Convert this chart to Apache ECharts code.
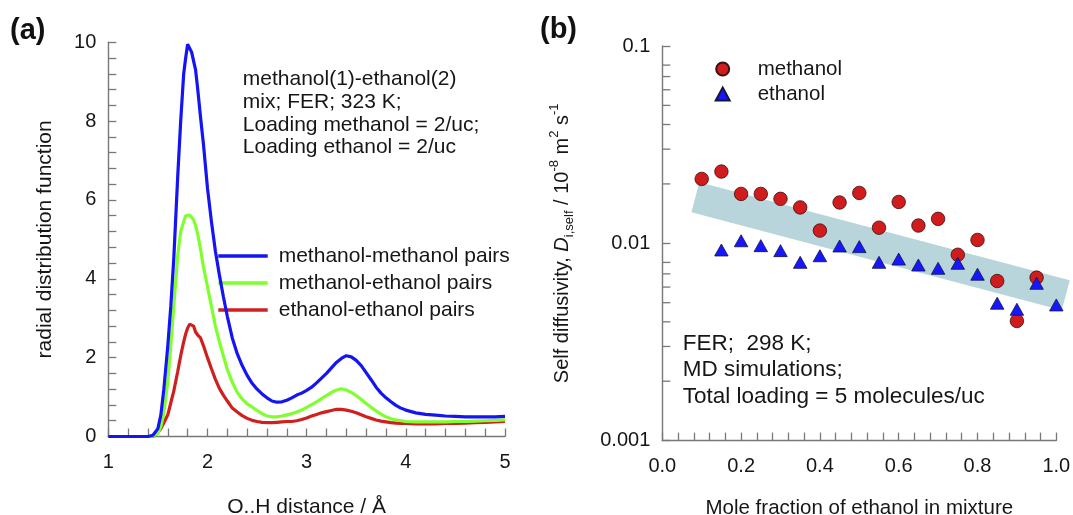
<!DOCTYPE html>
<html>
<head>
<meta charset="utf-8">
<script src="https://cdn.jsdelivr.net/npm/echarts@6/dist/echarts.min.js"></script>
<style>
  html, body { margin: 0; padding: 0; background: #fff; }
  #chart { width: 1073px; height: 515px; }
</style>
</head>
<body>
<div id="chart"></div>
<script>
// ---------- (a) radial distribution functions ----------
const rdfDistance = [1.00, 1.10, 1.20, 1.30, 1.40, 1.45, 1.50, 1.53, 1.56, 1.60, 1.63, 1.66, 1.70, 1.73, 1.76, 1.78,
  1.80, 1.82, 1.84, 1.86, 1.88, 1.90, 1.93, 1.96, 2.00, 2.04, 2.08, 2.12, 2.16, 2.20, 2.25, 2.30, 2.35, 2.40,
  2.45, 2.50, 2.55, 2.60, 2.65, 2.70, 2.75, 2.80, 2.85, 2.90, 2.95, 3.00, 3.05, 3.10, 3.15, 3.20, 3.25, 3.30,
  3.35, 3.40, 3.45, 3.50, 3.55, 3.60, 3.65, 3.70, 3.75, 3.80, 3.85, 3.90, 3.95, 4.00, 4.10, 4.20, 4.30, 4.40,
  4.50, 4.60, 4.70, 4.80, 4.90, 5.00];

const rdfMethMeth = [0, 0, 0, 0, 0, 0.03, 0.2, 0.55, 1.2, 2.3, 3.3, 4.5, 6.6, 8.0, 9.2, 9.6,
  9.95, 9.85, 9.75, 9.7, 9.3, 8.85, 8.1, 7.4, 6.3, 5.45, 4.7, 4.1, 3.55, 3.05, 2.5, 2.1, 1.8, 1.55,
  1.35, 1.2, 1.08, 0.98, 0.9, 0.87, 0.88, 0.92, 0.98, 1.05, 1.1, 1.17, 1.25, 1.36, 1.48, 1.6, 1.74, 1.88,
  1.98, 2.05, 2.02, 1.93, 1.8, 1.62, 1.44, 1.25, 1.1, 0.98, 0.88, 0.79, 0.72, 0.67, 0.6, 0.56, 0.54, 0.52,
  0.51, 0.5, 0.5, 0.5, 0.5, 0.51];

const rdfMethEth = [0, 0, 0, 0, 0, 0.01, 0.08, 0.25, 0.6, 1.4, 2.3, 3.3, 4.6, 5.2, 5.45, 5.6,
  5.65, 5.62, 5.6, 5.5, 5.35, 5.15, 4.75, 4.3, 3.8, 3.3, 2.8, 2.4, 2.05, 1.7, 1.38, 1.12, 0.95, 0.83,
  0.75, 0.66, 0.58, 0.52, 0.5, 0.5, 0.52, 0.55, 0.58, 0.62, 0.67, 0.74, 0.81, 0.88, 0.96, 1.04, 1.12, 1.18,
  1.21, 1.18, 1.12, 1.04, 0.94, 0.84, 0.74, 0.65, 0.57, 0.5, 0.45, 0.42, 0.4, 0.38, 0.37, 0.37, 0.37, 0.37,
  0.38, 0.38, 0.39, 0.4, 0.41, 0.42];

const rdfEthEth = [0, 0, 0, 0, 0, 0, 0.1, 0.2, 0.35, 0.55, 0.85, 1.15, 1.65, 2.05, 2.4, 2.6,
  2.75, 2.85, 2.88, 2.8, 2.65, 2.58, 2.5, 2.3, 2.0, 1.72, 1.45, 1.22, 1.05, 0.9, 0.72, 0.62, 0.53, 0.46,
  0.41, 0.38, 0.36, 0.35, 0.35, 0.36, 0.37, 0.38, 0.38, 0.4, 0.43, 0.47, 0.52, 0.56, 0.6, 0.63, 0.66, 0.69,
  0.69, 0.67, 0.64, 0.6, 0.55, 0.5, 0.46, 0.42, 0.39, 0.37, 0.35, 0.34, 0.33, 0.33, 0.32, 0.32, 0.32, 0.33,
  0.33, 0.34, 0.35, 0.36, 0.37, 0.38];

const rdfNames = ['methanol-methanol pairs', 'methanol-ethanol pairs', 'ethanol-ethanol pairs'];
const rdfColors = ['#1414f5', '#80ff2e', '#d01f1f'];

// ---------- (b) self diffusivities ----------
const methanolFraction = [0.10, 0.15, 0.20, 0.25, 0.30, 0.35, 0.40, 0.45, 0.50, 0.55, 0.60, 0.65, 0.70, 0.75, 0.80, 0.85, 0.90, 0.95];
const methanolDself = [0.0212, 0.0231, 0.0178, 0.0178, 0.0168, 0.0152, 0.0116, 0.0161, 0.0180, 0.0120, 0.0162, 0.0123, 0.0133, 0.00875, 0.0104, 0.00644, 0.00404, 0.0067];

const ethanolFraction = [0.15, 0.20, 0.25, 0.30, 0.35, 0.40, 0.45, 0.50, 0.55, 0.60, 0.65, 0.70, 0.75, 0.80, 0.85, 0.90, 0.95, 1.00];
const ethanolDself = [0.00925, 0.0103, 0.00973, 0.00918, 0.00801, 0.00865, 0.00969, 0.00962, 0.00801, 0.00832, 0.00776, 0.00747, 0.00792, 0.00697, 0.00497, 0.00463, 0.00627, 0.00487];

// trend band drawn as a thick straight stroke between two points
const bandFraction = [0.084, 1.024];
const bandDself = [0.0171, 0.00545];

// minor ticks of the logarithmic axis
const logMinorTicks = [0.002, 0.003, 0.004, 0.005, 0.006, 0.007, 0.008, 0.02, 0.03, 0.04, 0.05, 0.06, 0.07, 0.08];

const FONT = 'Liberation Sans, Arial, Helvetica, sans-serif';
const AXIS_GRAY = '#787878';
const TXT = '#161616';

const zip = (xs, ys) => xs.map((x, i) => [x, ys[i]]);

const axisCommon = {
  axisLine: { show: true, lineStyle: { color: AXIS_GRAY, width: 1.4 } },
  axisTick: { show: true, inside: true, length: 8, lineStyle: { color: AXIS_GRAY, width: 1.3 } },
  splitLine: { show: false },
  axisLabel: { color: TXT, fontSize: 20, fontFamily: FONT }
};

const chart = echarts.init(document.getElementById('chart'), null, { renderer: 'canvas' });

const option = {
  backgroundColor: '#ffffff',
  animation: false,
  textStyle: { fontFamily: FONT },
  grid: [
    { left: 108.3, top: 42.3, width: 396.7, height: 394.2, containLabel: false, outerBoundsMode: 'none' },
    { left: 662.3, top: 46, width: 394, height: 394.6, containLabel: false, outerBoundsMode: 'none' }
  ],
  xAxis: [
    Object.assign({}, axisCommon, {
      gridIndex: 0, type: 'value', min: 1, max: 5, interval: 1,
      minorTick: { show: true, splitNumber: 5, length: 8, lineStyle: { color: AXIS_GRAY, width: 1.3 } },
      axisLabel: Object.assign({}, axisCommon.axisLabel, { margin: 16 }),
      name: 'O..H distance / Å', nameLocation: 'middle', nameGap: 60,
      nameTextStyle: { color: TXT, fontSize: 21, fontFamily: FONT }
    }),
    Object.assign({}, axisCommon, {
      gridIndex: 1, type: 'value', min: 0, max: 1, interval: 0.2,
      minorTick: { show: true, splitNumber: 5, length: 8, lineStyle: { color: AXIS_GRAY, width: 1.3 } },
      axisLabel: Object.assign({}, axisCommon.axisLabel, { margin: 16, formatter: v => v.toFixed(1) }),
      name: 'Mole fraction of ethanol in mixture', nameLocation: 'middle', nameGap: 57,
      nameTextStyle: { color: TXT, fontSize: 20.5, fontFamily: FONT }
    })
  ],
  yAxis: [
    Object.assign({}, axisCommon, {
      gridIndex: 0, type: 'value', min: 0, max: 10, interval: 2,
      minorTick: { show: true, splitNumber: 5, length: 8, lineStyle: { color: AXIS_GRAY, width: 1.3 } },
      axisLabel: Object.assign({}, axisCommon.axisLabel, { margin: 12 }),
      name: 'radial distribution function', nameLocation: 'middle', nameGap: 53, nameRotate: 90,
      nameTextStyle: { color: TXT, fontSize: 21, fontFamily: FONT }
    }),
    Object.assign({}, axisCommon, {
      gridIndex: 1, type: 'log', logBase: 10, min: 0.001, max: 0.1,
      axisLabel: Object.assign({}, axisCommon.axisLabel, {
        margin: 12,
        formatter: v => String(Number(Number(v).toPrecision(1)))
      }),
      name: '{n|Self diffusivity, }{it|D}{sub|i,self}{n| / 10}{sup|-8}{n| m}{sup|2}{n| s}{sup|-1}',
      nameLocation: 'middle', nameGap: 86, nameRotate: 90,
      nameTextStyle: {
        color: TXT, fontFamily: FONT,
        rich: {
          n: { fontSize: 20, lineHeight: 28, color: TXT, fontFamily: FONT },
          it: { fontSize: 20, lineHeight: 28, fontStyle: 'italic', color: TXT, fontFamily: FONT },
          sub: { fontSize: 13, lineHeight: 13, verticalAlign: 'bottom', color: TXT, fontFamily: FONT },
          sup: { fontSize: 13, lineHeight: 13, verticalAlign: 'top', color: TXT, fontFamily: FONT }
        }
      }
    })
  ],
  legend: [
    {
      data: rdfNames, orient: 'vertical', left: 218.3, top: 244, padding: 0,
      icon: 'rect', itemWidth: 49.4, itemHeight: 3.5, itemGap: 3,
      textStyle: { fontSize: 21, lineHeight: 24, color: TXT, fontFamily: FONT, padding: [0, 0, 0, 6] },
      selectedMode: false
    },
    {
      data: [{ name: 'methanol', icon: 'circle' }, { name: 'ethanol', icon: 'triangle' }],
      orient: 'vertical', left: 714.7, top: 57, padding: 0,
      itemWidth: 14, itemHeight: 13, itemGap: 1,
      textStyle: { fontSize: 20.5, lineHeight: 24, color: TXT, fontFamily: FONT, padding: [0, 0, 0, 23] },
      selectedMode: false
    }
  ],
  graphic: [
    { type: 'text', left: 10, top: 16, style: { text: '(a)', font: 'bold 29px ' + FONT, fill: '#111' } },
    { type: 'text', left: 540, top: 15, style: { text: '(b)', font: 'bold 29px ' + FONT, fill: '#111' } },
    {
      type: 'text', left: 242.8, top: 67.5,
      style: {
        text: 'methanol(1)-ethanol(2)\nmix; FER; 323 K;\nLoading methanol = 2/uc;\nLoading ethanol = 2/uc',
        font: '21px ' + FONT, lineHeight: 22.9, fill: TXT
      }
    },
    {
      type: 'text', left: 682.7, top: 330,
      style: {
        text: 'FER;  298 K;\nMD simulations;\nTotal loading = 5 molecules/uc',
        font: '22.5px ' + FONT, lineHeight: 26.7, fill: TXT
      }
    }
  ],
  series: [
    ...[rdfMethMeth, rdfMethEth, rdfEthEth].map((ys, i) => ({
      type: 'line', name: rdfNames[i], xAxisIndex: 0, yAxisIndex: 0,
      data: zip(rdfDistance, ys), showSymbol: false, symbol: 'none',
      lineStyle: { color: rdfColors[i], width: 3.2 }, itemStyle: { color: rdfColors[i] },
      z: 5 - i
    })),
    {
      type: 'line', name: 'trend', xAxisIndex: 1, yAxisIndex: 1,
      data: zip(bandFraction, bandDself), symbol: 'none', clip: false, silent: true,
      lineStyle: { color: '#b7d5da', width: 31, cap: 'butt' }, z: 1
    },
    {
      type: 'scatter', name: 'methanol', xAxisIndex: 1, yAxisIndex: 1,
      data: zip(methanolFraction, methanolDself), symbol: 'circle', symbolSize: 13.5,
      itemStyle: { color: '#d01c1c', borderColor: '#3a0f0f', borderWidth: 0.8, opacity: 1 }, z: 3
    },
    {
      type: 'scatter', name: 'ethanol', xAxisIndex: 1, yAxisIndex: 1,
      data: zip(ethanolFraction, ethanolDself), symbol: 'triangle', symbolSize: [13.5, 12],
      itemStyle: { color: '#1717ff', borderColor: '#15153a', borderWidth: 0.8, opacity: 1 }, z: 4
    },
    {
      type: 'custom', name: 'minor ticks', xAxisIndex: 1, yAxisIndex: 1, silent: true, clip: false,
      data: logMinorTicks.map(v => [0, v]),
      renderItem: (params, api) => {
        const p = api.coord([0, api.value(1)]);
        return {
          type: 'line',
          shape: { x1: p[0], y1: p[1], x2: p[0] + 8, y2: p[1] },
          style: { stroke: AXIS_GRAY, lineWidth: 1.3 }
        };
      },
      z: 2
    }
  ]
};

chart.setOption(option);
</script>
</body>
</html>
